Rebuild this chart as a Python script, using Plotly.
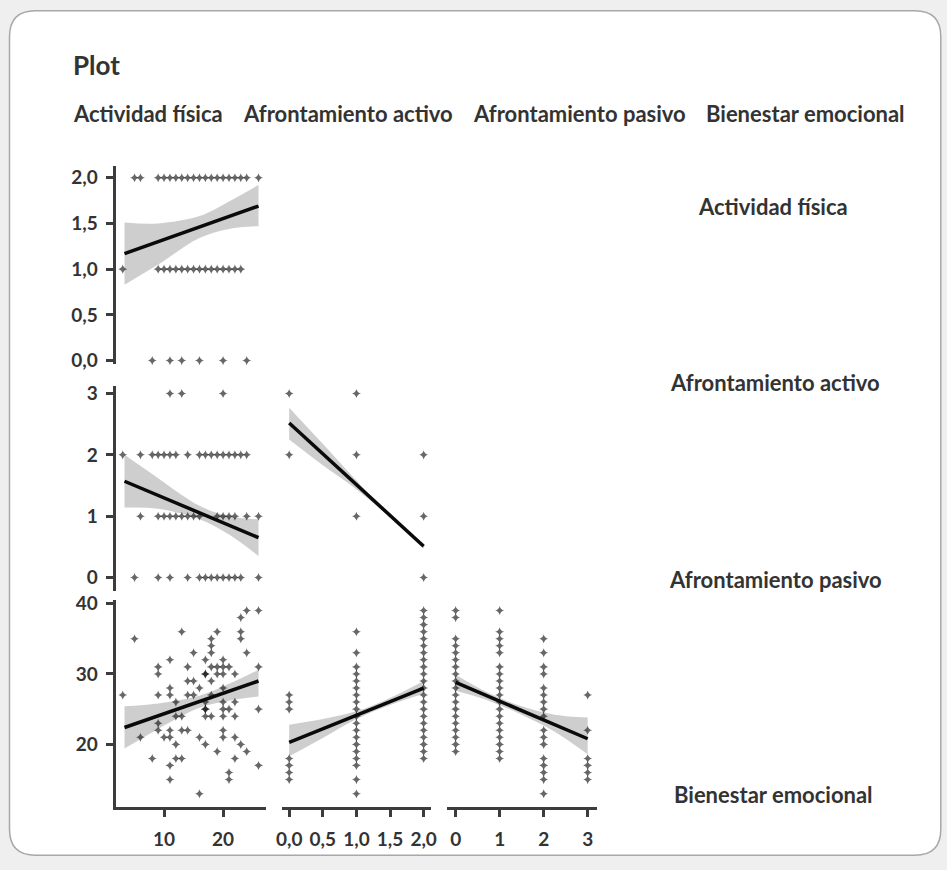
import numpy as np
import plotly.graph_objects as go

W, H = 947, 870

# ---------------- data ----------------
# Row 1 / col 1 : x = Actividad física, y level -> x values
r1c1_y2 = [5, 6, 9, 10, 11, 12, 13, 14, 15, 16, 17, 18, 19, 20, 21, 22, 23, 24, 26]
r1c1_y1 = [3, 9, 10, 11, 12, 13, 14, 15, 16, 17, 18, 19, 20, 21, 22, 23]
r1c1_y0 = [8, 11, 13, 16, 20, 24]

# Row 2 / col 1
r2c1_y3 = [11, 13, 20]
r2c1_y2 = [3, 6, 8, 9, 10, 11, 12, 14, 16, 17, 18, 19, 20, 21, 22, 23, 24]
r2c1_y1 = [6, 9, 10, 11, 12, 13, 14, 15, 16, 19, 20, 21, 22, 24, 26]
r2c1_y0 = [5, 9, 11, 14, 16, 17, 18, 19, 20, 21, 22, 23, 26]

# Row 2 / col 2
r2c2_x = [0, 1, 0, 1, 2, 1, 2, 2]
r2c2_y = [3, 3, 2, 2, 2, 1, 1, 0]

# Row 3 / col 1 (Actividad física vs Bienestar emocional)
r3c1_x = [3, 5, 6, 8, 9, 9, 9, 9, 9, 10, 11, 11, 11, 11, 11, 11, 11, 12, 12, 12,
          12, 13, 13, 13, 13, 14, 14, 15, 14, 15, 14, 15, 16, 16, 17, 17, 17, 17,
          17, 17, 17, 16, 17, 18, 18, 18, 19, 18, 18, 18, 18, 19, 19, 20, 19, 20,
          20, 20, 20, 20, 20, 20, 20, 21, 21, 21, 21, 22, 22, 22, 22, 22, 23, 23,
          23, 23, 24, 24, 24, 26, 26, 26, 26]
r3c1_y = [27, 35, 21, 18, 31, 30, 27, 23, 22, 21, 21, 22, 32, 28, 27, 17, 15, 26, 24, 20,
          18, 18, 36, 24, 22, 31, 29, 29, 27, 27, 22, 33, 28, 13, 25, 32, 30, 30,
          26, 25, 24, 21, 20, 34, 35, 33, 31, 31, 29, 27, 24, 19, 36, 30, 30, 26,
          32, 31, 28, 25, 24, 22, 21, 16, 15, 31, 25, 21, 18, 24, 30, 26, 35, 20,
          36, 38, 33, 19, 39, 25, 17, 39, 31]

# Row 3 / col 2 (Afrontamiento activo levels -> Bienestar values)
r3c2_x0 = [15, 16, 17, 18, 25, 26, 27]
r3c2_x1 = [13, 15, 17, 18, 19, 20, 21, 22, 23, 24, 25, 26, 27, 28, 29, 30, 31, 33, 36]
r3c2_x2 = [18, 19, 20, 21, 22, 23, 24, 25, 26, 27, 28, 29, 30, 31, 32, 33, 34, 35,
           36, 37, 38, 39]

# Row 3 / col 3 (Afrontamiento pasivo levels -> Bienestar values)
r3c3_x0 = [19, 20, 21, 22, 23, 24, 25, 26, 27, 28, 29, 30, 31, 32, 33, 34, 35, 38, 39]
r3c3_x1 = [18, 19, 20, 21, 22, 23, 24, 25, 26, 27, 28, 29, 30, 31, 33, 34, 35, 36, 39]
r3c3_x2 = [13, 15, 16, 17, 18, 20, 21, 22, 24, 25, 26, 27, 28, 30, 31, 33, 35]
r3c3_x3 = [15, 16, 17, 18, 22, 27]

# Fitted lines (end points) and confidence bands
fit_r1c1_x = [3.3, 26.0]; fit_r1c1_y = [1.17, 1.69]
ci_r1c1_x = [3.3, 9, 16, 21, 26]
ci_r1c1_hi = [1.51, 1.50, 1.58, 1.74, 1.92]
ci_r1c1_lo = [0.83, 1.05, 1.34, 1.44, 1.47]

fit_r2c1_x = [3.3, 26.0]; fit_r2c1_y = [1.57, 0.65]
ci_r2c1_x = [3.3, 9, 16, 21, 26]
ci_r2c1_hi = [2.00, 1.62, 1.17, 1.00, 0.95]
ci_r2c1_lo = [1.14, 1.12, 0.95, 0.70, 0.35]

fit_r2c2_x = [0.0, 2.0]; fit_r2c2_y = [2.52, 0.51]
ci_r2c2_x = [0, 0.5, 1.0, 1.5, 2.0]
ci_r2c2_hi = [2.77, 2.18, 1.58, 1.02, 0.55]
ci_r2c2_lo = [2.25, 1.83, 1.44, 0.98, 0.47]

fit_r3c1_x = [3.3, 26.0]; fit_r3c1_y = [22.4, 29.0]
ci_r3c1_x = [3.3, 9, 16, 21, 26]
ci_r3c1_hi = [25.4, 25.8, 26.9, 28.6, 30.6]
ci_r3c1_lo = [19.4, 22.2, 25.2, 26.2, 26.8]

fit_r3c2_x = [0.0, 2.0]; fit_r3c2_y = [20.3, 28.0]
ci_r3c2_x = [0, 0.5, 1.0, 1.5, 2.0]
ci_r3c2_hi = [22.8, 23.6, 24.7, 26.6, 29.0]
ci_r3c2_lo = [18.3, 20.9, 23.6, 25.6, 27.2]

fit_r3c3_x = [0.0, 3.0]; fit_r3c3_y = [28.8, 20.8]
ci_r3c3_x = [0, 0.75, 1.5, 2.25, 3.0]
ci_r3c3_hi = [29.9, 27.3, 25.4, 24.2, 23.8]
ci_r3c3_lo = [27.6, 26.2, 24.2, 21.8, 18.6]

col_labels = ["Actividad física", "Afrontamiento activo", "Afrontamiento pasivo", "Bienestar emocional"]
row_labels = ["Actividad física", "Afrontamiento activo", "Afrontamiento pasivo", "Bienestar emocional"]

tick_r1 = [0.0, 0.5, 1.0, 1.5, 2.0]
tick_r2 = [0, 1, 2, 3]
tick_r3 = [20, 30, 40]
tick_c1 = [10, 20]
tick_c2 = [0.0, 0.5, 1.0, 1.5, 2.0]
tick_c3 = [0, 1, 2, 3]

# ---------------- helpers ----------------
# screen-position compensation (target pixel -> figure pixel)
def PX(p):
    return (p - 6.5) / 0.987

def PY(p):
    return (p - 9.2) / 0.981

def px(x):
    return PX(x) / W

def py(y):
    return 1 - PY(y) / H

def levels_x(d):  # {y: [x...]} -> x, y lists
    xs, ys = [], []
    for lev, vals in d.items():
        xs += vals
        ys += [lev] * len(vals)
    return xs, ys

def levels_y(d):  # {x: [y...]} -> x, y lists
    xs, ys = [], []
    for lev, vals in d.items():
        ys += vals
        xs += [lev] * len(vals)
    return xs, ys

FONT = "Lato, 'Open Sans', sans-serif"
TXT = "#333333"
AXC = "#3c3c3c"

fig = go.Figure()

panels = []
x1, y1 = levels_x({2: r1c1_y2, 1: r1c1_y1, 0: r1c1_y0})
panels.append((1, x1, y1, fit_r1c1_x, fit_r1c1_y, ci_r1c1_x, ci_r1c1_lo, ci_r1c1_hi))
x2, y2 = levels_x({3: r2c1_y3, 2: r2c1_y2, 1: r2c1_y1, 0: r2c1_y0})
panels.append((2, x2, y2, fit_r2c1_x, fit_r2c1_y, ci_r2c1_x, ci_r2c1_lo, ci_r2c1_hi))
panels.append((3, r2c2_x, r2c2_y, fit_r2c2_x, fit_r2c2_y, ci_r2c2_x, ci_r2c2_lo, ci_r2c2_hi))
n = min(len(r3c1_x), len(r3c1_y))
panels.append((4, r3c1_x[:n], r3c1_y[:n], fit_r3c1_x, fit_r3c1_y, ci_r3c1_x, ci_r3c1_lo, ci_r3c1_hi))
x5, y5 = levels_y({0: r3c2_x0, 1: r3c2_x1, 2: r3c2_x2})
panels.append((5, x5, y5, fit_r3c2_x, fit_r3c2_y, ci_r3c2_x, ci_r3c2_lo, ci_r3c2_hi))
x6, y6 = levels_y({0: r3c3_x0, 1: r3c3_x1, 2: r3c3_x2, 3: r3c3_x3})
panels.append((6, x6, y6, fit_r3c3_x, fit_r3c3_y, ci_r3c3_x, ci_r3c3_lo, ci_r3c3_hi))

for idx, xs, ys, fx, fy, cx, clo, chi in panels:
    xa = "x" if idx == 1 else f"x{idx}"
    ya = "y" if idx == 1 else f"y{idx}"
    fig.add_trace(go.Scatter(x=cx, y=clo, mode="lines", line=dict(width=0, shape="spline"),
                             xaxis=xa, yaxis=ya, showlegend=False, hoverinfo="skip"))
    fig.add_trace(go.Scatter(x=cx, y=chi, mode="lines", line=dict(width=0, shape="spline"),
                             fill="tonexty", fillcolor="rgba(165,165,165,0.55)",
                             xaxis=xa, yaxis=ya, showlegend=False, hoverinfo="skip"))
    fig.add_trace(go.Scatter(x=xs, y=ys, mode="markers", cliponaxis=False,
                             marker=dict(symbol="star-diamond", size=6.5, color="rgba(10,10,10,0.62)",
                                         line=dict(width=0)),
                             xaxis=xa, yaxis=ya, showlegend=False))
    fig.add_trace(go.Scatter(x=fx, y=fy, mode="lines", line=dict(color="#0a0a0a", width=3.5),
                             xaxis=xa, yaxis=ya, showlegend=False))

# domains (target pixel positions)
colx = [(116, 266), (282, 431), (447.5, 597.5)]
coly = [(166, 364), (386, 592), (601, 808)]
xr = [[1.78, 27.2], [-0.113, 2.104], [-0.193, 3.216]]
yr = [[-0.033, 2.131], [-0.228, 3.13], [11.06, 40.43]]
rc = {1: (0, 0), 2: (1, 0), 3: (1, 1), 4: (2, 0), 5: (2, 1), 6: (2, 2)}

tickfont = dict(family=FONT, size=19, color=TXT, weight="bold")
xticks = [tick_c1, tick_c2, tick_c3]
xfmt = ["d", ".1f", "d"]
yticks = [tick_r1, tick_r2, tick_r3]
yfmt = [".1f", "d", "d"]

layout = {}
for idx, (r, c) in rc.items():
    xk = "xaxis" if idx == 1 else f"xaxis{idx}"
    yk = "yaxis" if idx == 1 else f"yaxis{idx}"
    xanc = "y" if idx == 1 else f"y{idx}"
    yanc = "x" if idx == 1 else f"x{idx}"
    show_x = (r == 2)
    show_y = (c == 0)
    layout[xk] = dict(domain=[px(colx[c][0]), px(colx[c][1])], range=xr[c], anchor=xanc,
                      showgrid=False, zeroline=False, showline=show_x, linecolor=AXC, linewidth=3,
                      ticks="outside" if show_x else "", ticklen=7, tickwidth=3, tickcolor=AXC,
                      showticklabels=show_x, tickvals=xticks[c], tickformat=xfmt[c],
                      tickfont=tickfont, ticklabelstandoff=6)
    layout[yk] = dict(domain=[py(coly[r][1]), py(coly[r][0])], range=yr[r], anchor=yanc,
                      showgrid=False, zeroline=False, showline=show_y, linecolor=AXC, linewidth=3,
                      ticks="outside" if show_y else "", ticklen=7, tickwidth=3, tickcolor=AXC,
                      showticklabels=show_y, tickvals=yticks[r], tickformat=yfmt[r],
                      tickfont=tickfont, ticklabelstandoff=4)

# card
L, T, R, B, rad = 10, 11, 941, 856, 26
path = (f"M {px(L + rad)} {py(T)} L {px(R - rad)} {py(T)} Q {px(R)} {py(T)} {px(R)} {py(T + rad)} "
        f"L {px(R)} {py(B - rad)} Q {px(R)} {py(B)} {px(R - rad)} {py(B)} "
        f"L {px(L + rad)} {py(B)} Q {px(L)} {py(B)} {px(L)} {py(B - rad)} "
        f"L {px(L)} {py(T + rad)} Q {px(L)} {py(T)} {px(L + rad)} {py(T)} Z")
shapes = [dict(type="path", xref="paper", yref="paper", path=path, fillcolor="white",
               line=dict(color="#a8a8a8", width=1.5), layer="below")]

annotations = [dict(text="Plot", x=px(71), y=py(65), xref="paper", yref="paper", showarrow=False,
                    xanchor="left", yanchor="middle",
                    font=dict(family=FONT, size=26, color=TXT, weight="bold"))]
for lab, xl in zip(col_labels, [71, 241, 471, 704]):
    annotations.append(dict(text=lab, x=px(xl), y=py(114), xref="paper", yref="paper",
                            showarrow=False, xanchor="left", yanchor="middle",
                            font=dict(family=FONT, size=22, color=TXT, weight="bold")))
for lab, (xc, yc) in zip(row_labels, [(773, 207), (775, 383), (776, 580), (774, 795)]):
    annotations.append(dict(text=lab, x=px(xc), y=py(yc), xref="paper", yref="paper",
                            showarrow=False, xanchor="center", yanchor="middle",
                            font=dict(family=FONT, size=22, color=TXT, weight="bold")))

fig.update_layout(width=W, height=H, margin=dict(l=0, r=0, t=0, b=0),
                  paper_bgcolor="#efefef", plot_bgcolor="rgba(0,0,0,0)",
                  separators=", ", shapes=shapes, annotations=annotations,
                  showlegend=False, **layout)

fig.write_html("out.html", config={"displayModeBar": False},
               post_script="document.body.style.margin='0';document.body.style.overflow='hidden';")
